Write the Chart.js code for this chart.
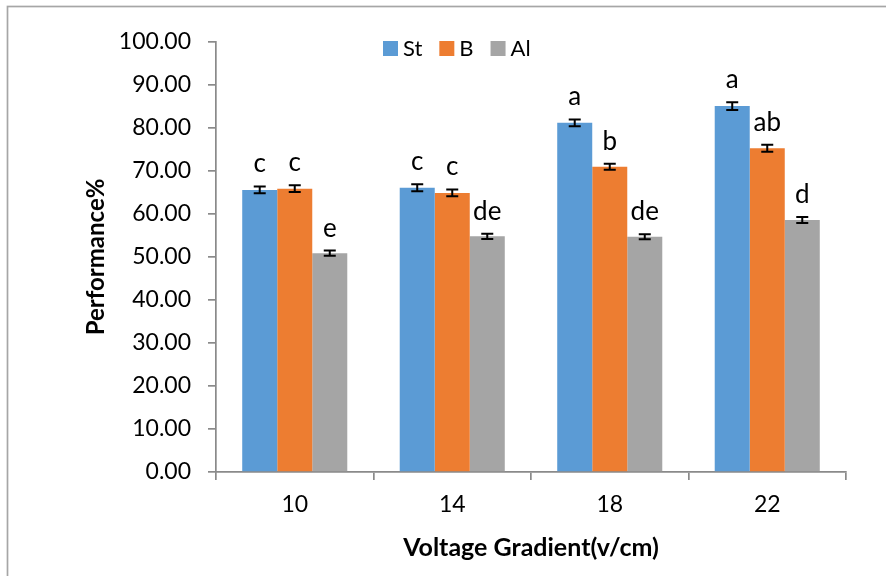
<!DOCTYPE html>
<html>
<head>
<meta charset="utf-8">
<script src="https://cdn.jsdelivr.net/npm/chart.js@4.4.1/dist/chart.umd.min.js"></script>
<style>
  html, body { margin:0; padding:0; background:#fff; overflow:hidden; }
  canvas { display:block; }
</style>
</head>
<body>
<canvas id="chart" width="886" height="576"></canvas>
<script>
// data
const categories = ['10', '14', '18', '22'];
const seriesNames = ['St', 'B', 'Al'];
const stValues = [65.6, 66.1, 81.2, 85.1];
const bValues  = [65.9, 64.9, 71.0, 75.3];
const alValues = [50.9, 54.8, 54.7, 58.6];
const stErr = [0.8, 0.8, 0.8, 0.9];
const bErr  = [0.8, 0.8, 0.7, 0.8];
const alErr = [0.6, 0.6, 0.6, 0.7];
const stLetters = ['c', 'c', 'a', 'a'];
const bLetters  = ['c', 'c', 'b', 'ab'];
const alLetters = ['e', 'de', 'de', 'd'];
const yTicks = [0, 10, 20, 30, 40, 50, 60, 70, 80, 90, 100];

const colors = ['#5B9BD5', '#ED7D31', '#A5A5A5'];
const FONT = 'Lato, "Open Sans", sans-serif';
const AXIS = '#8a8a8a';

// error bars + letters above each bar
const barExtras = {
  id: 'barExtras',
  afterDatasetsDraw(chart) {
    const {ctx, scales:{y}} = chart;
    ctx.save();
    chart.data.datasets.forEach((ds, di) => {
      const meta = chart.getDatasetMeta(di);
      meta.data.forEach((bar, i) => {
        const v = ds.data[i], e = ds.err[i];
        const yt = y.getPixelForValue(v + e), yb = y.getPixelForValue(v - e);
        ctx.strokeStyle = '#000'; ctx.lineWidth = 2;
        ctx.beginPath();
        ctx.moveTo(bar.x, yt); ctx.lineTo(bar.x, yb);
        ctx.moveTo(bar.x - 6, yt); ctx.lineTo(bar.x + 6, yt);
        ctx.moveTo(bar.x - 6, yb); ctx.lineTo(bar.x + 6, yb);
        ctx.stroke();
        ctx.fillStyle = '#000';
        ctx.font = '26px ' + FONT;
        ctx.textAlign = 'center'; ctx.textBaseline = 'alphabetic';
        ctx.fillText(ds.letters[i], bar.x, yt - 14);
      });
    });
    ctx.restore();
  }
};

// legend drawn inside the plot, top centre; plus outer frame
const innerLegend = {
  id: 'innerLegend',
  beforeDraw(chart) {
    const ctx = chart.ctx;
    ctx.save();
    ctx.strokeStyle = '#a6a6a6'; ctx.lineWidth = 1.7;
    ctx.strokeRect(7.5, 6.5, 1200, 1200);
    ctx.restore();
  },
  afterDraw(chart) {
    const ctx = chart.ctx;
    ctx.save();
    ctx.font = '22px ' + FONT;
    ctx.textBaseline = 'middle'; ctx.textAlign = 'left';
    let x = 383;
    const yc = 48;
    chart.data.datasets.forEach(ds => {
      ctx.fillStyle = ds.backgroundColor;
      ctx.fillRect(x, yc - 7, 15, 15);
      ctx.fillStyle = '#000';
      ctx.fillText(ds.label, x + 20, yc + 1);
      x += 20 + ctx.measureText(ds.label).width + 17;
    });
    ctx.restore();
  }
};

const mk = (label, data, err, letters, color) => ({
  label, data, err, letters, backgroundColor: color, borderWidth: 0,
  categoryPercentage: 0.667, barPercentage: 1.0
});

new Chart(document.getElementById('chart'), {
  type: 'bar',
  data: {
    labels: categories,
    datasets: [
      mk(seriesNames[0], stValues, stErr, stLetters, colors[0]),
      mk(seriesNames[1], bValues,  bErr,  bLetters,  colors[1]),
      mk(seriesNames[2], alValues, alErr, alLetters, colors[2])
    ]
  },
  options: {
    responsive: false,
    animation: false,
    layout: { padding: { top: 42, right: 40, left: 0, bottom: 0 } },
    plugins: { legend: { display: false }, tooltip: { enabled: false } },
    scales: {
      x: {
        afterFit: s => { s.height = 104; },
        grid: { drawOnChartArea: false, drawTicks: true, tickLength: 8, color: AXIS, lineWidth: 1.7, offset: true },
        border: { color: AXIS, width: 1.7 },
        ticks: { color: '#000', font: { family: FONT, size: 23 }, padding: 11 },
        title: { display: true, text: 'Voltage Gradient(v/cm)', color: '#000',
                 font: { family: FONT, size: 25, weight: 'bold' }, padding: { top: 0, bottom: 13 } }
      },
      y: {
        min: 0, max: 100,
        afterFit: s => { s.width = 216; },
        afterBuildTicks: s => { s.ticks = yTicks.map(v => ({ value: v })); },
        grid: { drawOnChartArea: false, drawTicks: true, tickLength: 8, color: AXIS, lineWidth: 1.7 },
        border: { color: AXIS, width: 1.7 },
        ticks: { color: '#000', font: { family: FONT, size: 23 }, padding: 17,
                 callback: v => v.toFixed(2) },
        title: { display: true, text: 'Performance%', color: '#000',
                 font: { family: FONT, size: 24, weight: 'bold' }, padding: { top: 82, bottom: 0 } }
      }
    }
  },
  plugins: [barExtras, innerLegend]
});
</script>
</body>
</html>
